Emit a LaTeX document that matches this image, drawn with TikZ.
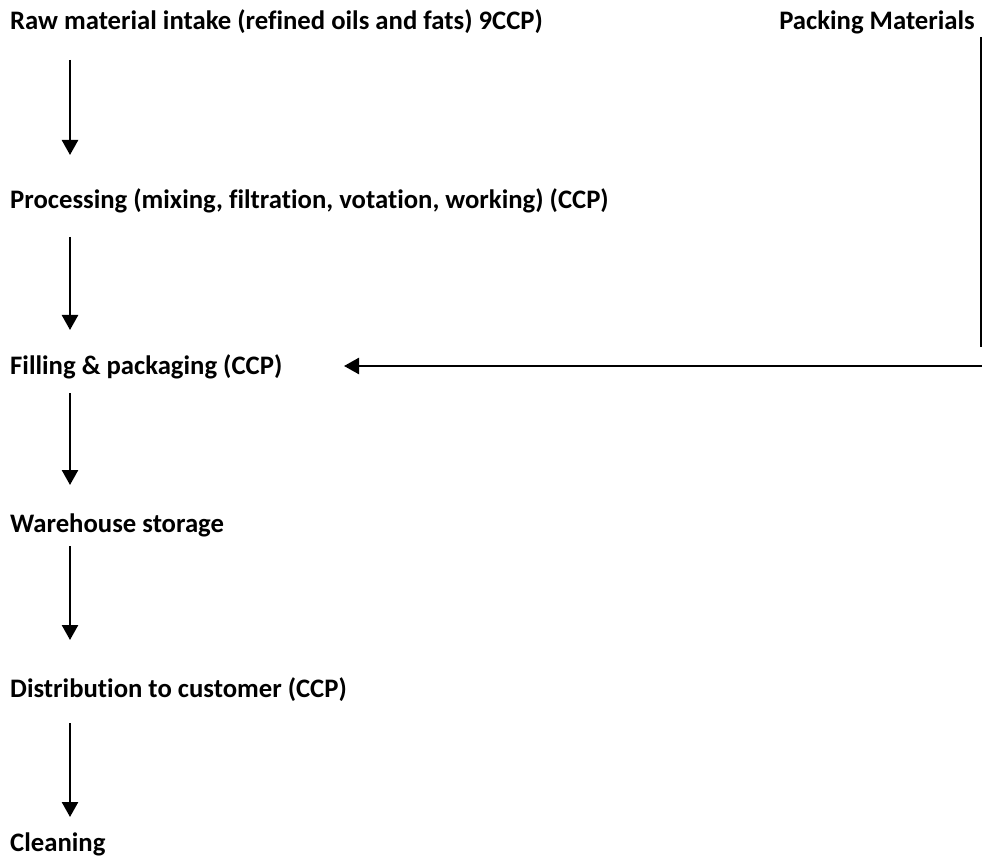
\documentclass[tikz,border=0pt]{standalone}
\usepackage{fontspec}
\setmainfont[RawFeature={-liga}]{Carlito}
\usetikzlibrary{arrows.meta}
\begin{document}
\begin{tikzpicture}[x=1pt,y=-1pt,
  lbl/.style={anchor=base west,inner sep=0pt,font=\fontsize{26.7}{30}\selectfont\bfseries},
  arr/.style={line width=2.5pt,-{Triangle[width=16pt,length=15pt]}},
  plain/.style={line width=1.8pt}]
\useasboundingbox (0,0) rectangle (982,866);
\node[lbl] (raw) at (10,30) {Raw material intake (refined oils and fats) 9CCP)};
\node[lbl,anchor=base east] (pack) at (975,30) {Packing Materials};
\node[lbl] (proc) at (10,209) {Processing (mixing, filtration, votation, working) (CCP)};
\node[lbl] (fill) at (10,374) {Filling \& packaging (CCP)};
\node[lbl] (ware) at (10,532) {Warehouse storage};
\node[lbl] (dist) at (10,697) {Distribution to customer (CCP)};
\node[lbl] (clean) at (10,851) {Cleaning};
\coordinate (a1s) at (70,60);  \coordinate (a1e) at (70,155);
\coordinate (a2s) at (70,237); \coordinate (a2e) at (70,330);
\coordinate (a3s) at (70,393); \coordinate (a3e) at (70,485);
\coordinate (a4s) at (70,546); \coordinate (a4e) at (70,640);
\coordinate (a5s) at (70,723); \coordinate (a5e) at (70,817);
\coordinate (ps) at (981,37); \coordinate (pe) at (981,347);
\coordinate (hs) at (982,366); \coordinate (he) at (344,366);
\draw[arr] (a1s) -- (a1e);
\draw[arr] (a2s) -- (a2e);
\draw[arr] (a3s) -- (a3e);
\draw[arr] (a4s) -- (a4e);
\draw[arr] (a5s) -- (a5e);
\draw[plain] (ps) -- (pe);
\draw[arr] (hs) -- (he);
\end{tikzpicture}
\end{document}
